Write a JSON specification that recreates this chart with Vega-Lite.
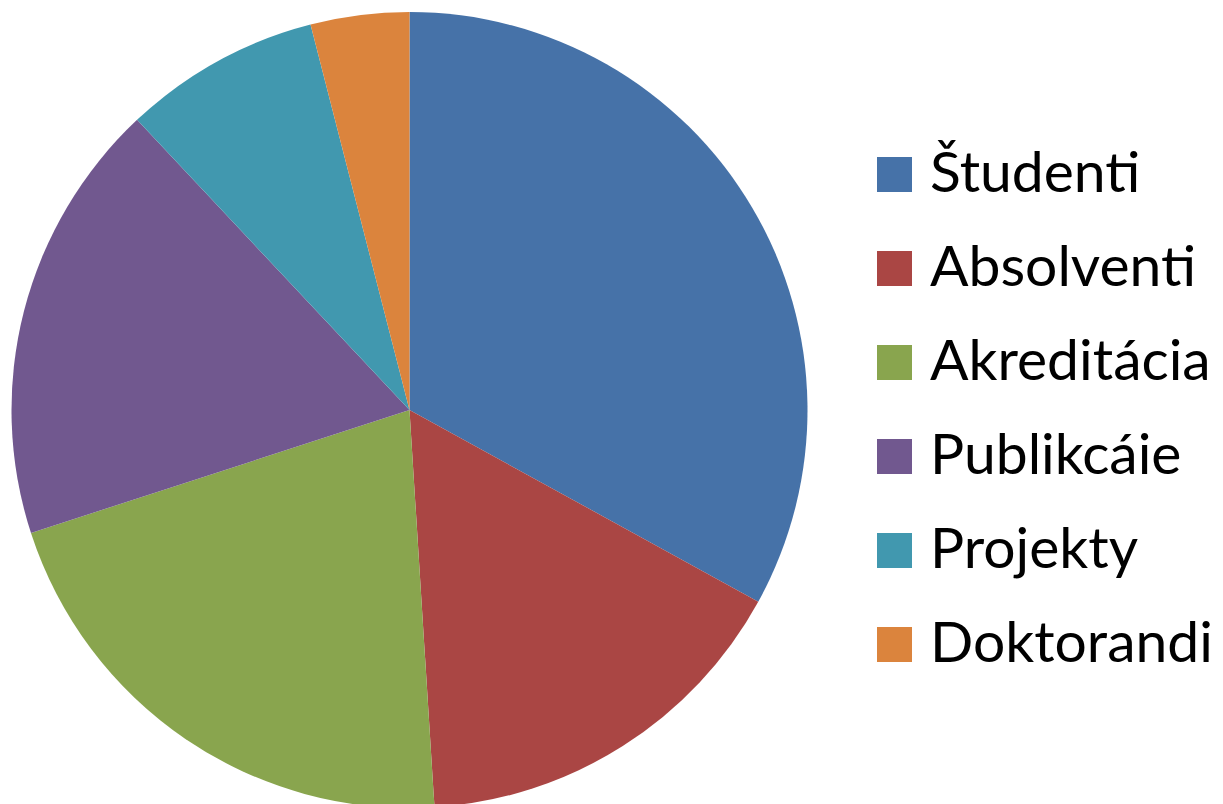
{
  "$schema": "https://vega.github.io/schema/vega-lite/v6.json",
  "width": 819,
  "height": 820,
  "padding": 0,
  "background": "white",
  "data": {
    "values": [
      {"kategoria": "Študenti", "hodnota": 33, "poradie": 1},
      {"kategoria": "Absolventi", "hodnota": 16, "poradie": 2},
      {"kategoria": "Akreditácia", "hodnota": 21, "poradie": 3},
      {"kategoria": "Publikcáie", "hodnota": 18, "poradie": 4},
      {"kategoria": "Projekty", "hodnota": 8, "poradie": 5},
      {"kategoria": "Doktorandi", "hodnota": 4, "poradie": 6}
    ]
  },
  "mark": {"type": "arc", "outerRadius": 398, "stroke": null},
  "encoding": {
    "theta": {"field": "hodnota", "type": "quantitative", "stack": true},
    "order": {"field": "poradie", "type": "quantitative"},
    "color": {
      "field": "kategoria",
      "type": "nominal",
      "scale": {
        "domain": ["Študenti", "Absolventi", "Akreditácia", "Publikcáie", "Projekty", "Doktorandi"],
        "range": ["#4672A8", "#AA4644", "#89A54E", "#71588F", "#4198AF", "#DB843D"]
      },
      "legend": {
        "title": null,
        "orient": "none",
        "legendX": 866,
        "legendY": 146,
        "padding": 0,
        "symbolType": "square",
        "symbolSize": 1225,
        "symbolStrokeWidth": 0,
        "labelFont": "Lato",
        "labelFontSize": 57,
        "labelColor": "black",
        "labelOffset": 7,
        "rowPadding": 36,
        "labelLimit": 400
      }
    }
  },
  "config": {"view": {"stroke": null}}
}
